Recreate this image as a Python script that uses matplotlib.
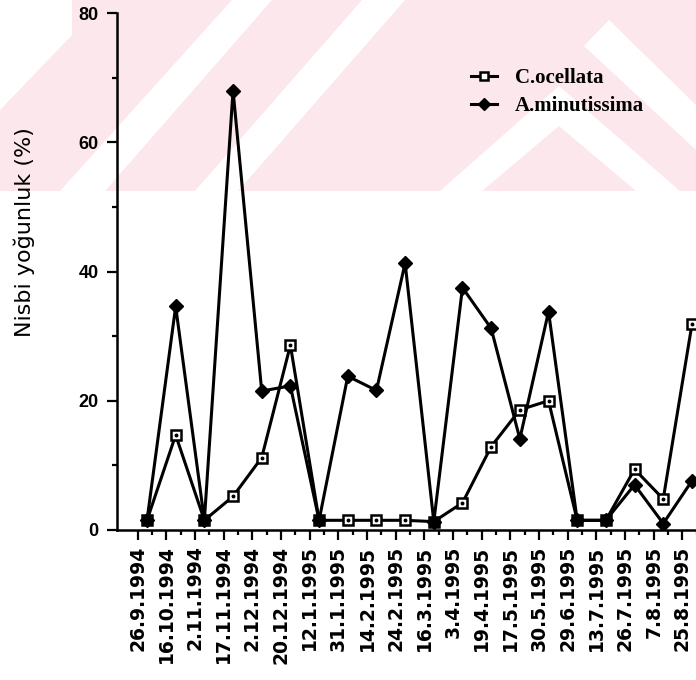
import matplotlib
matplotlib.use('Agg')
import matplotlib.pyplot as plt
from matplotlib.patches import Polygon, Rectangle
from matplotlib.ticker import FixedLocator, MultipleLocator
import numpy as np

# örnekleme tarihleri
dates = ['26.9.1994', '16.10.1994', '2.11.1994', '17.11.1994', '2.12.1994',
         '20.12.1994', '12.1.1995', '31.1.1995', '14.2.1995', '24.2.1995',
         '16.3.1995', '3.4.1995', '19.4.1995', '17.5.1995', '30.5.1995',
         '29.6.1995', '13.7.1995', '26.7.1995', '7.8.1995', '25.8.1995']

# nisbi yoğunluk (%)
c_ocellata = [1.5, 14.7, 1.5, 5.2, 11.2, 28.6, 1.5, 1.5, 1.5, 1.5,
              1.3, 4.2, 12.9, 18.6, 20.0, 1.5, 1.5, 9.4, 4.8, 31.8]
a_minutissima = [1.5, 34.6, 1.5, 68.0, 21.5, 22.3, 1.5, 23.8, 21.6, 41.3,
                 1.3, 37.5, 31.2, 14.1, 33.8, 1.5, 1.5, 7.0, 1.0, 7.6]

y_ticks = [0, 20, 40, 60, 80]

W, H = 696, 680
fig = plt.figure(figsize=(W / 100, H / 100), dpi=100)


def px(x, y):
    return (x / W, 1 - y / H)


# ── arka plandaki soluk filigran ──────────────────────────────────────────────
PINK = '#fce8ec'
fig.patches.append(Rectangle(px(0, 191), 1, 191 / H, transform=fig.transFigure,
                             facecolor=PINK, edgecolor='none', zorder=-10))
white_shapes = [
    [(0, 0), (72, 0), (72, 35), (0, 110)],
    [(60, 191), (105, 191), (272, 0), (232, 0)],
    [(195, 191), (238, 191), (405, 0), (362, 0)],
    [(440, 191), (482, 191), (559, 126), (636, 191), (680, 191), (559, 86)],
    [(584, 46), (609, 20), (696, 105), (696, 150)],
]
for pts in white_shapes:
    fig.patches.append(Polygon([px(x, y) for x, y in pts], closed=True,
                               transform=fig.transFigure, facecolor='white',
                               edgecolor='none', zorder=-9))

# ── eksen ─────────────────────────────────────────────────────────────────────
x = np.arange(len(dates))
step = 28.68
left, right = 117, 147 + (len(dates) - 1 + 1.6) * step
ax = fig.add_axes([left / W, (H - 530) / H, (right - left) / W, (530 - 13) / H])
ax.set_facecolor('none')
ax.set_zorder(1)

ax.plot(x, c_ocellata, color='black', lw=2.2, marker='s', ms=7.5,
        mfc='white', mec='black', mew=1.8, label='C.ocellata', zorder=3)
ax.plot(x, c_ocellata, ls='none', marker='o', ms=1.8, color='black', zorder=3.5)
ax.plot(x, a_minutissima, color='black', lw=2.2, marker='D', ms=7,
        mfc='black', mec='black', label='A.minutissima', zorder=4)

ax.set_xlim(-(147 - left) / step, len(dates) - 1 + 1.6)
ax.set_ylim(0, 80)

ax.xaxis.set_major_locator(FixedLocator(x - 0.33))
ax.xaxis.set_minor_locator(FixedLocator(x + 0.17))
ax.set_xticklabels(dates, rotation=90, fontsize=13.5, fontweight='bold',
                   family='DejaVu Sans')
ax.set_yticks(y_ticks)
ax.yaxis.set_minor_locator(MultipleLocator(10))
for lab in ax.get_yticklabels():
    lab.set_fontsize(13)
    lab.set_fontweight('bold')
    lab.set_family('Liberation Sans')

ax.tick_params(which='major', length=7.2, width=1.6, color='black')
ax.tick_params(which='minor', length=3.6, width=1.6, color='black')
ax.tick_params(axis='x', which='major', pad=4)
ax.tick_params(axis='y', which='major', pad=6)

ax.spines[['top', 'right']].set_visible(False)
ax.spines[['left', 'bottom']].set_linewidth(1.8)

fig.text(24 / W, 1 - 232 / H, 'Nisbi yoğunluk (%)', rotation=90,
         ha='center', va='center', fontsize=16, family='DejaVu Sans')

ax.legend(loc='center left', bbox_to_anchor=px(471, 92),
          bbox_transform=fig.transFigure, frameon=False,
          prop={'family': 'Liberation Serif', 'weight': 'bold', 'size': 15},
          handlelength=1.25, handletextpad=0.85, labelspacing=0.4,
          borderpad=0, borderaxespad=0, markerscale=0.85)

fig.savefig('out.png', dpi=100)
